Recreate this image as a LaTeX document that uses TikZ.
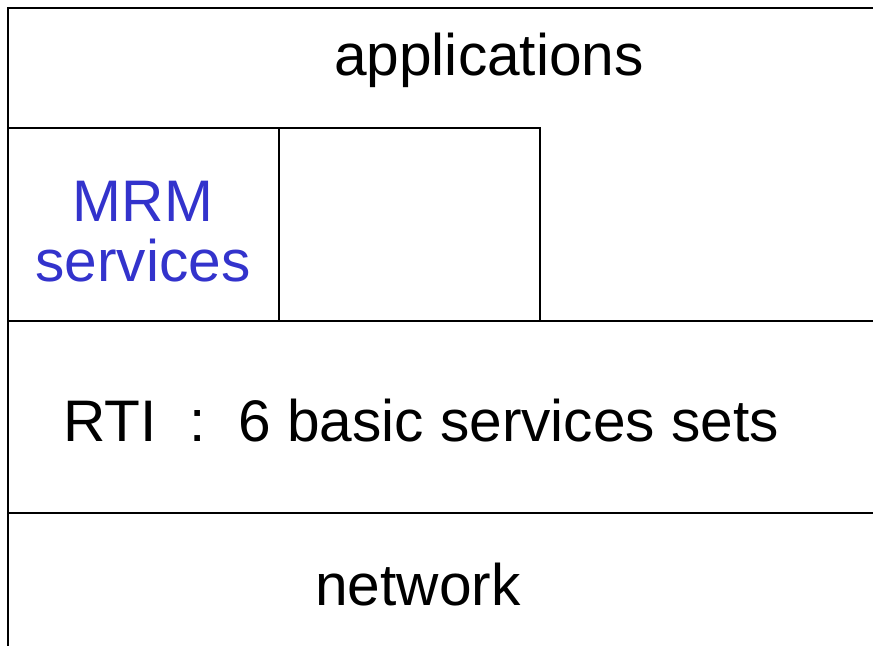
\documentclass[tikz,border=0pt]{standalone}
\usepackage{fontspec}
\setmainfont{Liberation Sans}
\usepackage{xcolor}
\usetikzlibrary{positioning}
\definecolor{mrmBlue}{RGB}{51,51,204}
\newcommand{\bigtxt}{\fontsize{41.7}{42.5}\selectfont}

\begin{document}
\begin{tikzpicture}[x=0.025cm,y=-0.025cm,
  layerline/.style={line width=1.5pt,black},
  layertext/.style={inner sep=0pt,anchor=base,font=\bigtxt}]
\useasboundingbox (0,0) rectangle (873,645);
% frame and layers
\draw[layerline] (8,650) -- (8,8) -- (880,8);
\draw[layerline] (8,128) -- (540,128) -- (540,321);
\draw[layerline] (279,128) -- (279,321);
\draw[layerline] (8,321) -- (880,321);
\draw[layerline] (8,513) -- (880,513);
% texts
\node[layertext] (apps) at (489,75) {applications};
\node[layertext,text=mrmBlue,align=center] (mrm) at (143,281) {MRM\\services};
\node[layertext,anchor=base west] (rti) at (63,441) {RTI~~:~~6 basic services sets};
\node[layertext] (net) at (418,605) {network};
\end{tikzpicture}
\end{document}
